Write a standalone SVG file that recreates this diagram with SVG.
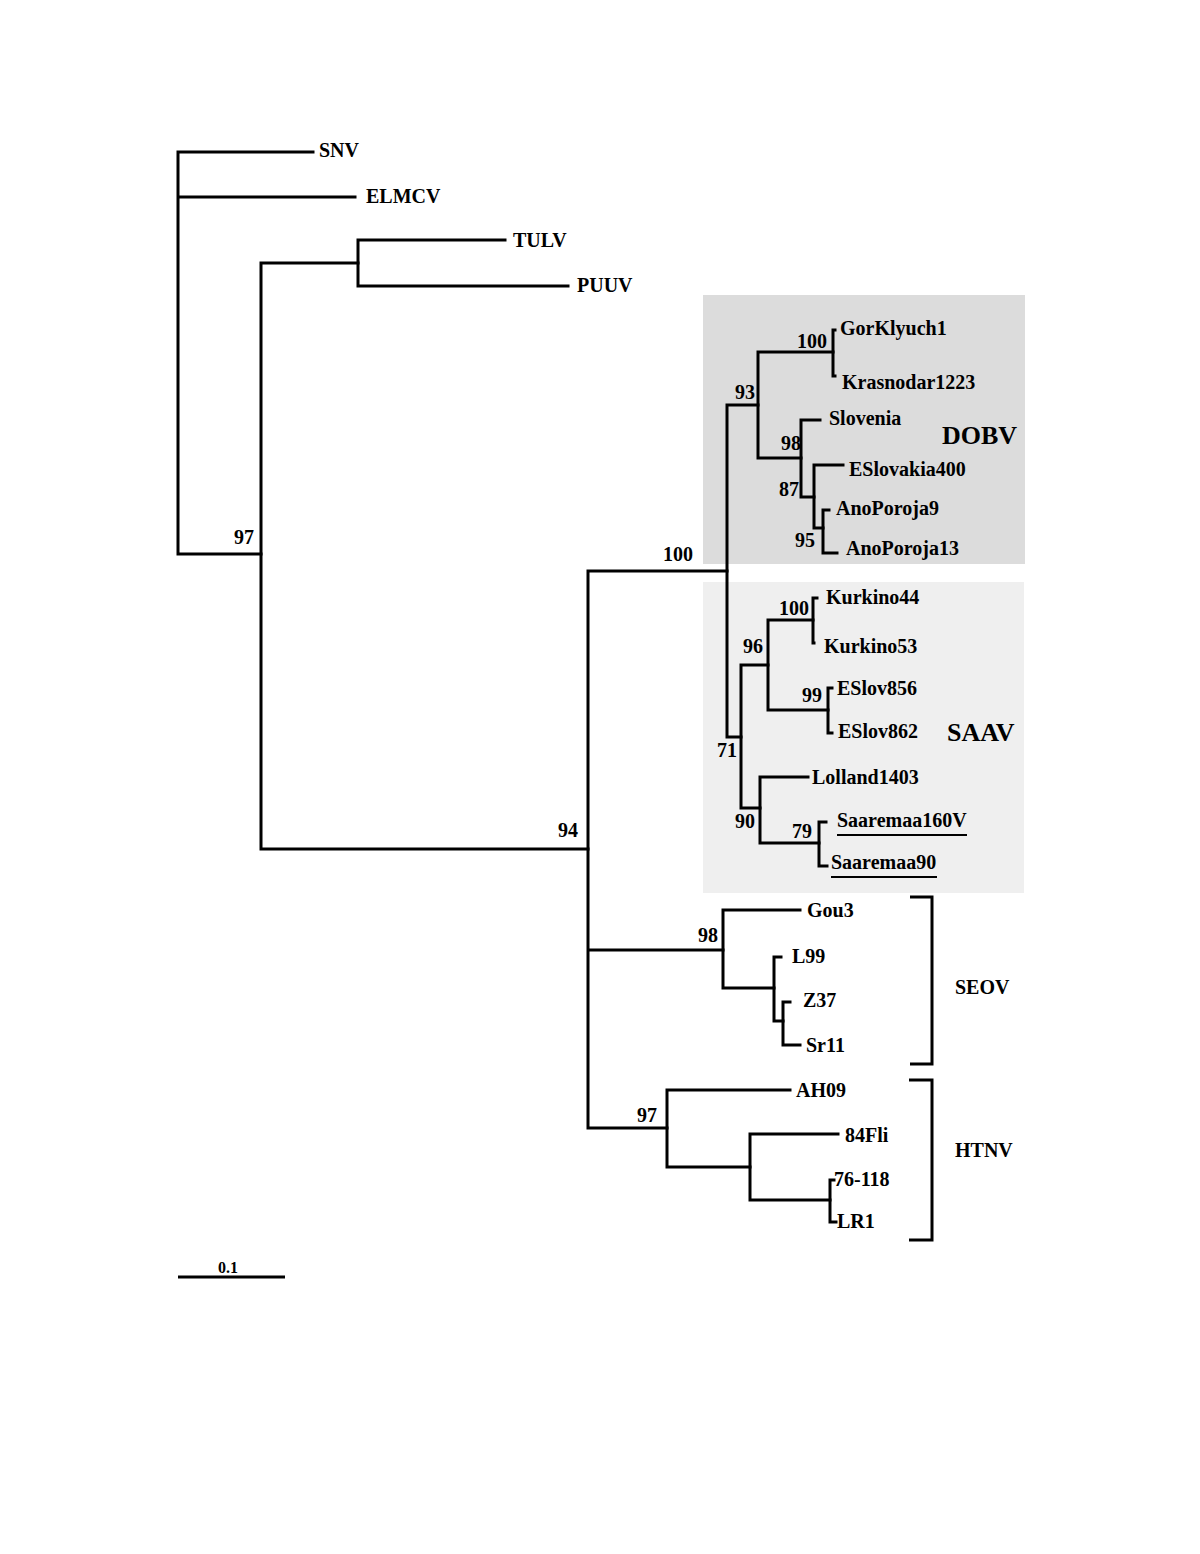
<svg xmlns="http://www.w3.org/2000/svg" width="1200" height="1554" viewBox="0 0 1200 1554">
<style>
.b{fill:none;stroke:#000;stroke-width:3;stroke-linecap:square;stroke-linejoin:miter}
.br{fill:none;stroke:#000;stroke-width:3;stroke-linecap:butt}
text{font-family:"Liberation Serif","Times New Roman",serif;font-weight:bold;font-size:20px;fill:#000}
.big{font-size:26px}
.sm{font-size:16px}
.u{stroke:#000;stroke-width:2}
</style>
<rect width="1200" height="1554" fill="#fff"/>
<g id="boxes">
<rect id="dobv-box" x="703" y="295" width="322" height="269" fill="#dcdcdc"/>
<rect id="saav-box" x="703" y="582" width="321" height="311" fill="#efefef"/>
</g>
<g id="connectors">
<path class="b" d="M313,152 H178 V554 H261 M355,197 H178"/>
<path class="b" d="M358,263 H261 V849 H588"/>
<path class="b" d="M505,240 H358 V286 H568"/>
<path class="b" d="M727,571 H588 V1128 H667 M723,950 H588"/>
<path class="b" d="M758,405 H727 V737 H741"/>
<path class="b" d="M833,352 H758 V458 H801"/>
<path class="b" d="M835,330 H833 V376 H835"/>
<path class="b" d="M820,420 H801 V497 H814"/>
<path class="b" d="M843,465 H814 V528 H823"/>
<path class="b" d="M829,510 H823 V553 H837"/>
<path class="b" d="M768,665 H741 V808 H760"/>
<path class="b" d="M813,620 H768 V710 H828"/>
<path class="b" d="M817,598 H813 V643 H814"/>
<path class="b" d="M832,688 H828 V733 H832"/>
<path class="b" d="M808,777 H760 V843 H819"/>
<path class="b" d="M826,822 H819 V866 H827"/>
<path class="b" d="M800,910 H723 V988 H774"/>
<path class="b" d="M781,957 H774 V1021 H783"/>
<path class="b" d="M790,1002 H783 V1045 H800"/>
<path class="b" d="M790,1090 H667 V1167 H750"/>
<path class="b" d="M838,1134 H750 V1200 H830"/>
<path class="b" d="M834,1180 H830 V1222 H836"/>
<path class="br" d="M910,897 H932 V1064 H910"/>
<path class="br" d="M909,1080 H932 V1240 H909"/>
<path class="br" d="M178,1277 H285"/>
</g>
<g id="taxa">
<g id="n-snv"><text x="319" y="157">SNV</text></g>
<g id="n-elmcv"><text x="366" y="203">ELMCV</text></g>
<g id="n-tulv"><text x="513" y="247">TULV</text></g>
<g id="n-puuv"><text x="577" y="292">PUUV</text></g>
<g id="n-gorklyuch1"><text x="840" y="335">GorKlyuch1</text></g>
<g id="n-krasnodar1223"><text x="842" y="389">Krasnodar1223</text></g>
<g id="n-slovenia"><text x="829" y="425">Slovenia</text></g>
<g id="n-eslovakia400"><text x="849" y="476">ESlovakia400</text></g>
<g id="n-anoporoja9"><text x="836" y="515">AnoPoroja9</text></g>
<g id="n-anoporoja13"><text x="846" y="555">AnoPoroja13</text></g>
<g id="n-kurkino44"><text x="826" y="604">Kurkino44</text></g>
<g id="n-kurkino53"><text x="824" y="653">Kurkino53</text></g>
<g id="n-eslov856"><text x="837" y="695">ESlov856</text></g>
<g id="n-eslov862"><text x="838" y="738">ESlov862</text></g>
<g id="n-lolland1403"><text x="812" y="784">Lolland1403</text></g>
<g id="n-saaremaa160v"><text x="837" y="827">Saaremaa160V</text><line class="u" x1="837" y1="835" x2="967" y2="835"/></g>
<g id="n-saaremaa90"><text x="831" y="869">Saaremaa90</text><line class="u" x1="831" y1="877" x2="937" y2="877"/></g>
<g id="n-gou3"><text x="807" y="917">Gou3</text></g>
<g id="n-l99"><text x="792" y="963">L99</text></g>
<g id="n-z37"><text x="803" y="1007">Z37</text></g>
<g id="n-sr11"><text x="806" y="1052">Sr11</text></g>
<g id="n-ah09"><text x="796" y="1097">AH09</text></g>
<g id="n-84fli"><text x="845" y="1142">84Fli</text></g>
<g id="n-76-118"><text x="834" y="1186">76-118</text></g>
<g id="n-lr1"><text x="837" y="1228">LR1</text></g>
</g>
<g id="groups">
<g id="g-dobv"><text class="big" x="942" y="444">DOBV</text></g>
<g id="g-saav"><text class="big" x="947" y="741">SAAV</text></g>
<g id="g-seov"><text x="955" y="994">SEOV</text></g>
<g id="g-htnv"><text x="955" y="1157">HTNV</text></g>
</g>
<g id="bootstrap">
<text x="234" y="544">97</text>
<text x="558" y="837">94</text>
<text x="663" y="561">100</text>
<text x="735" y="399">93</text>
<text x="797" y="348">100</text>
<text x="781" y="450">98</text>
<text x="779" y="496">87</text>
<text x="795" y="547">95</text>
<text x="779" y="615">100</text>
<text x="743" y="653">96</text>
<text x="802" y="702">99</text>
<text x="717" y="757">71</text>
<text x="735" y="828">90</text>
<text x="792" y="838">79</text>
<text x="698" y="942">98</text>
<text x="637" y="1122">97</text>
</g>
<g id="scale"><text class="sm" x="218" y="1273">0.1</text></g>
</svg>
